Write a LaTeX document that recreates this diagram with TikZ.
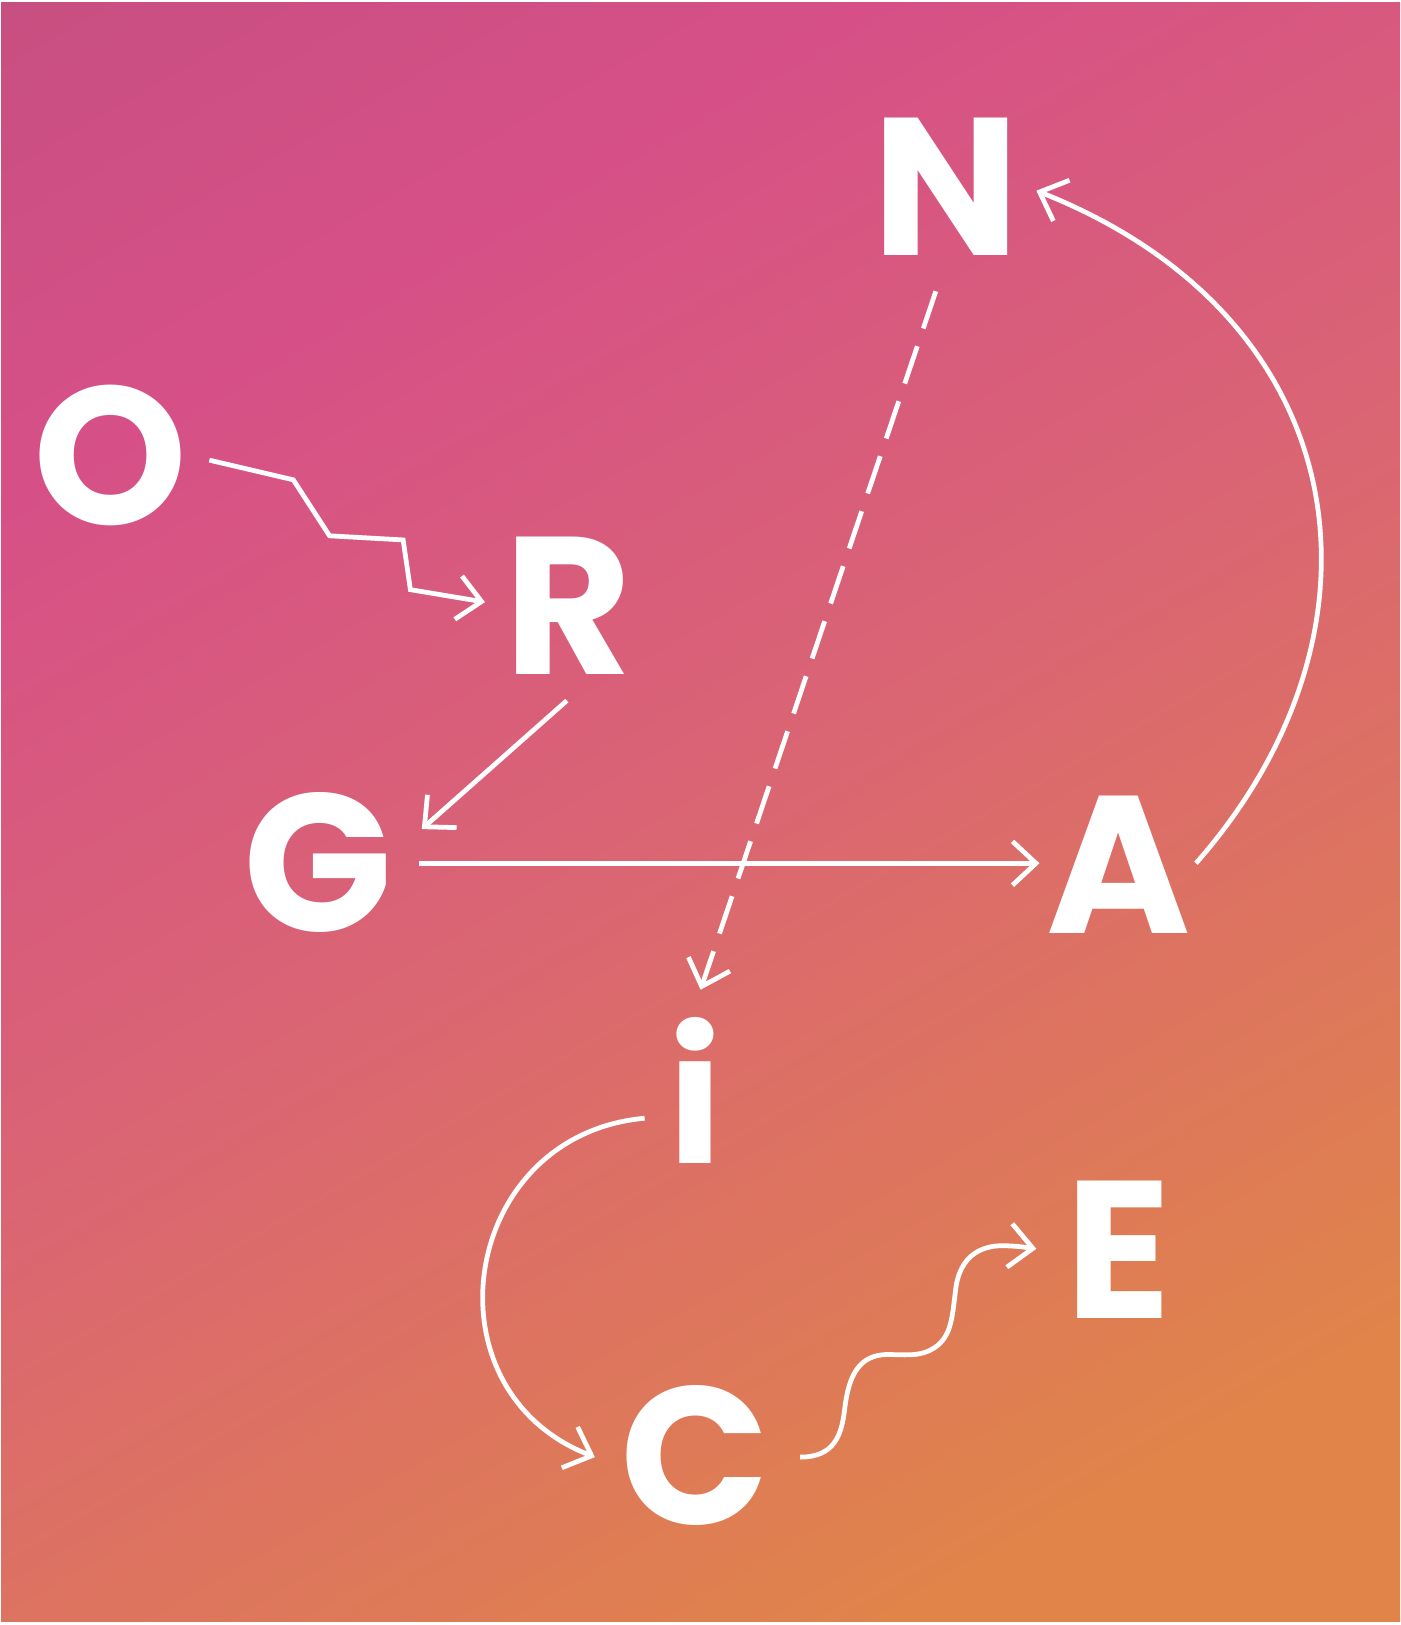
\documentclass[tikz,border=0pt]{standalone}
\usepackage{fontspec}
\setmainfont{Poppins}
\usetikzlibrary{arrows.meta,calc}
\definecolor{cPurp}{HTML}{C64F80}
\definecolor{cPink}{HTML}{D65087}
\definecolor{cMid}{HTML}{DA6573}
\definecolor{cOr}{HTML}{E0844A}
\pgfdeclareverticalshading{bgshade}{100bp}{color(0bp)=(cOr); color(24bp)=(cOr); color(50bp)=(cMid); color(70bp)=(cPink); color(86bp)=(cPurp); color(100bp)=(cPurp)}
\begin{document}
\begin{tikzpicture}[x=1pt,y=-1pt,
  letter/.style={text=white, font=\fontsize{189}{189}\selectfont\bfseries, inner sep=0pt, anchor=base},
  smallletter/.style={letter, font=\fontsize{176}{176}\selectfont\bfseries},
  conn/.style={draw=white, line width=4.6pt, line join=miter, -{Straight Barb[angle=86:31pt, sharp]}},
  dashedconn/.style={conn, dash pattern=on 38pt off 18pt}
  ]
\useasboundingbox (0,0) rectangle (1351,1568);
\fill[white] (0,0) rectangle (1351,1568);
\shade[shading=bgshade, shading angle=30] (1,2) rectangle (1351,1565);

\node[letter] (N) at (913,247) {N};
\node[letter] (O) at (107,506) {O};
\node[letter] (R) at (548,651) {R};
\node[letter] (G) at (307,899) {G};
\node[letter] (A) at (1079,901) {A};
\node[smallletter] (I) at (671,1123) {i};
\node[letter] (E) at (1079,1272) {E};
\node[letter] (C) at (671,1471) {C};

\draw[conn] ($(O.base)+(95,-62)$) -- (283,463) -- (318,517) -- (389,521) -- (396,569) -- ($(R.base)+(-80,-70)$);
\draw[conn] ($(R.base)+(-1,25)$) -- ($(G.base)+(100,-99)$);
\draw[conn] ($(G.base)+(97,-66)$) -- ($(A.base)+(-76,-68)$);
\draw[dashedconn] ($(N.base)+(-10,34)$) -- ($(I.base)+(5,-168)$);
\draw[conn] ($(A.base)+(75,-68)$) .. controls (1352,608) and (1310,307) .. ($(N.base)+(87,-63)$);
\draw[conn] ($(I.base)+(-49,-44)$) .. controls (444,1095) and (407,1341) .. ($(C.base)+(-97,-65)$);
\draw[conn] ($(C.base)+(101,-65)$) .. controls (805,1406) and (812,1385) .. (815,1360)
  .. controls (819,1325) and (830,1308) .. (855,1307)
  .. controls (875,1307) and (890,1310) .. (905,1298)
  .. controls (918,1287) and (919,1270) .. (922,1245)
  .. controls (925,1218) and (940,1203) .. (965,1202)
  .. controls (982,1202) and (992,1204) .. ($(E.base)+(-79,-67)$);
\end{tikzpicture}
\end{document}
